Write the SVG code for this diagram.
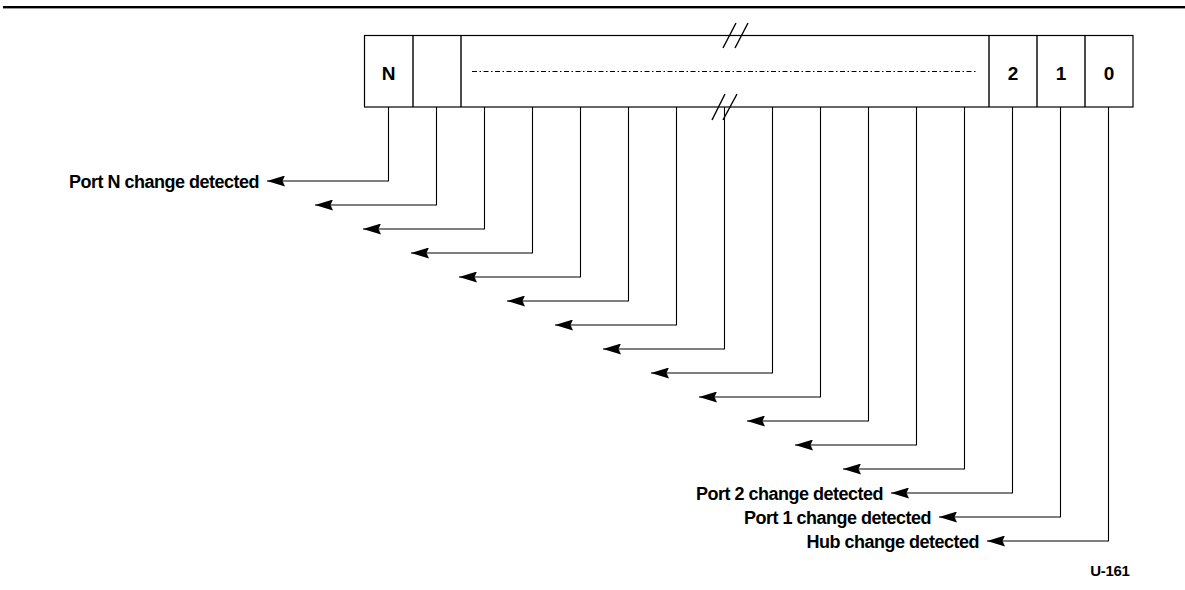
<svg xmlns="http://www.w3.org/2000/svg" width="1185" height="590" viewBox="0 0 1185 590">
  <style>
    .box { fill: #fff; stroke: #000; stroke-width: 1.2; }
    .wire { fill: none; stroke: #000; stroke-width: 1.1; marker-end: url(#arr); }
    .cell { font-family: "Liberation Sans", Arial, sans-serif; font-weight: bold; font-size: 19px; text-anchor: middle; fill: #000; }
    .lbl { font-family: "Liberation Sans", Arial, sans-serif; font-weight: bold; font-size: 18px; letter-spacing: -0.5px; text-anchor: end; fill: #000; }
    .brk { stroke: #000; stroke-width: 1.4; fill: none; }
  </style>
  <defs>
    <marker id="arr" viewBox="0 0 18 11" refX="18" refY="5.5" markerWidth="18" markerHeight="11" markerUnits="userSpaceOnUse" orient="auto">
      <path d="M0,0 L18,5.5 L0,11 L2.5,5.5 Z" fill="#000"/>
    </marker>
  </defs>

  <rect x="3" y="6" width="1182" height="2.4" fill="#000"/>

  <g id="register">
    <rect class="box" x="364.5" y="35.5" width="768.5" height="71.5"/>
    <line class="brk" x1="413" y1="35.5" x2="413" y2="107"/>
    <line class="brk" x1="461" y1="35.5" x2="461" y2="107"/>
    <line class="brk" x1="989" y1="35.5" x2="989" y2="107"/>
    <line class="brk" x1="1037" y1="35.5" x2="1037" y2="107"/>
    <line class="brk" x1="1085" y1="35.5" x2="1085" y2="107"/>
    <line x1="472" y1="71.5" x2="978" y2="71.5" stroke="#000" stroke-width="1" stroke-dasharray="5 2.5 1.5 2.5"/>
    <text class="cell" x="388.5" y="80">N</text>
    <text class="cell" x="1013" y="80">2</text>
    <text class="cell" x="1061" y="80">1</text>
    <text class="cell" x="1109" y="80">0</text>
    <path class="brk" d="M723,48 L736,23 M735,48 L748,23"/>
    <path class="brk" d="M712,120 L725,94 M723,120 L737,94"/>
  </g>

  <g id="connectors">
    <path class="wire" d="M388.5,107 V181 H267"/>
    <path class="wire" d="M436.5,107 V205 H315"/>
    <path class="wire" d="M484.5,107 V229 H363"/>
    <path class="wire" d="M532.5,107 V253 H411"/>
    <path class="wire" d="M580.5,107 V277 H459"/>
    <path class="wire" d="M628.5,107 V301 H507"/>
    <path class="wire" d="M676.5,107 V325 H555"/>
    <path class="wire" d="M724.5,107 V349 H603"/>
    <path class="wire" d="M772.5,107 V373 H651"/>
    <path class="wire" d="M820.5,107 V397 H699"/>
    <path class="wire" d="M868.5,107 V421 H747"/>
    <path class="wire" d="M916.5,107 V445 H795"/>
    <path class="wire" d="M964.5,107 V469 H843"/>
    <path class="wire" d="M1012.5,107 V493 H891"/>
    <path class="wire" d="M1060.5,107 V517 H939"/>
    <path class="wire" d="M1108.5,107 V541 H987"/>
  </g>

  <g id="label-portN"><text class="lbl" x="259" y="187.5">Port N change detected</text></g>
  <g id="label-port2"><text class="lbl" x="883" y="499.5">Port 2 change detected</text></g>
  <g id="label-port1"><text class="lbl" x="931" y="523.5">Port 1 change detected</text></g>
  <g id="label-hub"><text class="lbl" x="979" y="547.5">Hub change detected</text></g>
  <g id="figure-id"><text x="1110" y="576" font-family="Liberation Sans, Arial, sans-serif" font-weight="bold" font-size="15" letter-spacing="-0.3" text-anchor="middle" fill="#000">U-161</text></g>
</svg>
